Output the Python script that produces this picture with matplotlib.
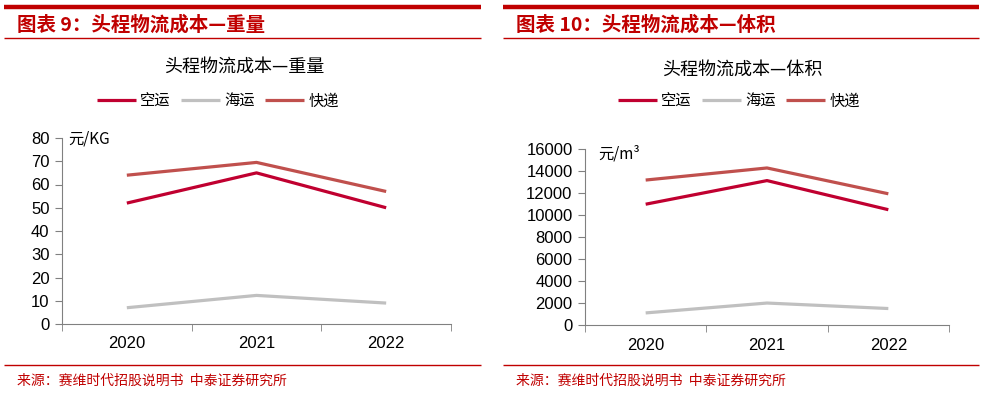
import matplotlib.pyplot as plt
from matplotlib.lines import Line2D

plt.rcParams['font.family'] = ['Liberation Sans', 'Noto Sans CJK SC', 'DejaVu Sans']

years = ['2020', '2021', '2022']
series = ['空运', '海运', '快递']
colors = ['#C00030', '#C0C0C0', '#C0504D']

weight_air = [52, 65, 50]
weight_sea = [7, 12.3, 9]
weight_exp = [64, 69.5, 57]

volume_air = [11000, 13150, 10500]
volume_sea = [1100, 2000, 1500]
volume_exp = [13200, 14300, 11950]

W, H = 989, 393
fig = plt.figure(figsize=(W / 100, H / 100), dpi=100)
CJK = ['Noto Sans CJK SC', 'DejaVu Sans']


def fx(px):
    return px / W


def fy(py):
    return 1 - py / H


def hline(x0, x1, y, lw, color='#C00000'):
    fig.add_artist(Line2D([fx(x0), fx(x1)], [fy(y), fy(y)], color=color, lw=lw,
                          transform=fig.transFigure, solid_capstyle='butt'))


def panel(x0, x1, box, header, title, unit, unit_xy, vals, ylim, yticks, title_xy, leg_xy):
    # frame decorations
    hline(x0, x1, 7, 3.2)
    hline(x0, x1, 38, 1.0)
    hline(x0, x1, 365, 1.0)
    fig.text(fx(x0 + 13), fy(25), header, color='#C00000', fontsize=14, fontweight='bold',
             style='italic', va='center', ha='left', family=CJK)
    fig.text(fx(x0 + 13), fy(381), '来源：赛维时代招股说明书  中泰证券研究所', color='#C00000',
             fontsize=10, va='center', ha='left', family=CJK)
    fig.text(fx(title_xy[0]), fy(title_xy[1]), title, fontsize=13, ha='center', va='center',
             family=CJK)

    ax = fig.add_axes([fx(box[0]), fy(box[3]), fx(box[2] - box[0]), (box[3] - box[1]) / H])
    x = [0, 1, 2]
    for v, name, c in zip(vals, series, colors):
        ax.plot(x, v, color=c, lw=2.3, label=name, solid_capstyle='butt')
    ax.set_xlim(-0.5, 2.5)
    ax.set_ylim(*ylim)
    ax.set_yticks(yticks)
    ax.set_xticks(x)
    ax.set_xticklabels(years)
    ax.set_xticks([-0.5, 0.5, 1.5, 2.5], minor=True)
    ax.tick_params(axis='x', which='major', length=0, labelsize=12, pad=9)
    ax.tick_params(axis='x', which='minor', length=5, color='#808080', direction='out')
    ax.tick_params(axis='y', length=5, color='#808080', labelsize=12, pad=4)
    for s in ['top', 'right']:
        ax.spines[s].set_visible(False)
    for s in ['left', 'bottom']:
        ax.spines[s].set_color('#808080')
    ax.text(fx(unit_xy[0]), fy(unit_xy[1]), unit, transform=fig.transFigure, fontsize=11,
            ha='left', va='center', family=CJK)
    fig.legend(*ax.get_legend_handles_labels(), loc='center', ncol=3, frameon=False,
               bbox_to_anchor=(fx(leg_xy[0]), fy(leg_xy[1])),
               handlelength=2.5, handletextpad=0.3, columnspacing=0.7,
               prop={'family': CJK, 'size': 11})
    return ax


panel(4, 481, (62, 138, 451, 324), '图表 9：头程物流成本—重量', '头程物流成本—重量', '元/KG', (68, 139),
      [weight_air, weight_sea, weight_exp], (0, 80), range(0, 81, 10), (244, 67), (218, 101))
panel(503, 979, (585, 149.3, 949, 325), '图表 10：头程物流成本—体积', '头程物流成本—体积', '元/m³', (598, 154),
      [volume_air, volume_sea, volume_exp], (0, 16000), range(0, 16001, 2000), (742, 70), (739, 101))

fig.savefig('out.png', dpi=100)
